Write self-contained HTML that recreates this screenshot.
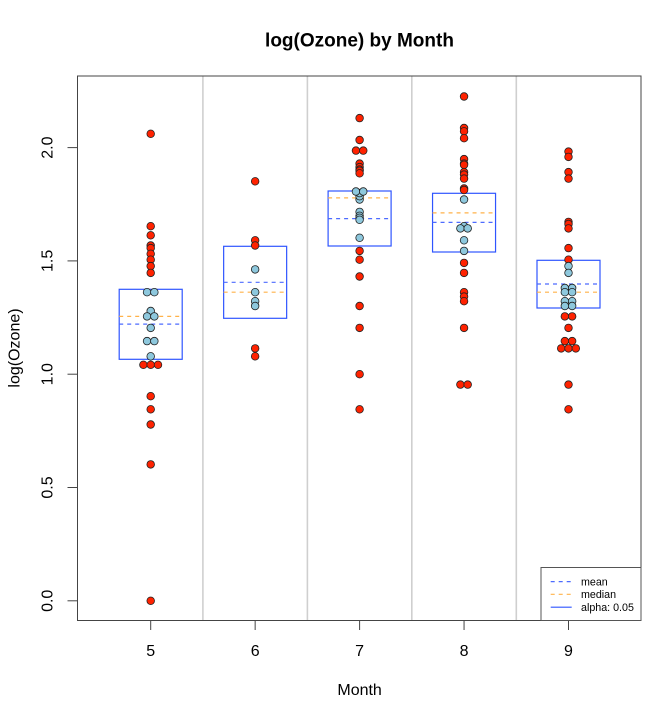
<!DOCTYPE html>
<html>
<head>
<meta charset="utf-8">
<style>
html,body{margin:0;padding:0;background:#fff;}
svg{display:block;}
text{font-family:"Liberation Sans",Arial,Helvetica,sans-serif;fill:#000;}
</style>
</head>
<body>
<svg width="661" height="707" viewBox="0 0 661 707" xmlns="http://www.w3.org/2000/svg">
<rect x="0" y="0" width="661" height="707" fill="#fff"/>
<!-- title -->
<text x="359.5" y="46.5" font-size="19" font-weight="bold" text-anchor="middle">log(Ozone) by Month</text>

<!-- separators -->
<g stroke="#cfcfcf" stroke-width="1.6">
<line x1="202.9" y1="76" x2="202.9" y2="620.5"/>
<line x1="307.4" y1="76" x2="307.4" y2="620.5"/>
<line x1="411.8" y1="76" x2="411.8" y2="620.5"/>
<line x1="516.3" y1="76" x2="516.3" y2="620.5"/>
</g>

<!-- boxes -->
<g fill="none" stroke="#2f55ff" stroke-width="1.2">
<rect x="119.2" y="289.3" width="63" height="70"/>
<rect x="223.65" y="246.3" width="63" height="72"/>
<rect x="328.1" y="191" width="63" height="55"/>
<rect x="432.55" y="193.3" width="63" height="58.7"/>
<rect x="537" y="260.3" width="63" height="47.7"/>
</g>
<!-- mean lines -->
<g stroke="#4d6bff" stroke-width="1.2" stroke-dasharray="4,4">
<line x1="119.2" y1="324.1" x2="182.2" y2="324.1"/>
<line x1="223.65" y1="282.3" x2="286.65" y2="282.3"/>
<line x1="328.1" y1="218.6" x2="391.1" y2="218.6"/>
<line x1="432.55" y1="222.4" x2="495.55" y2="222.4"/>
<line x1="537" y1="284" x2="600" y2="284"/>
</g>
<!-- median lines -->
<g stroke="#ffb24a" stroke-width="1.2" stroke-dasharray="4,4">
<line x1="119.2" y1="316.4" x2="182.2" y2="316.4"/>
<line x1="223.65" y1="292.2" x2="286.65" y2="292.2"/>
<line x1="328.1" y1="197.9" x2="391.1" y2="197.9"/>
<line x1="432.55" y1="212.9" x2="495.55" y2="212.9"/>
<line x1="537" y1="292.2" x2="600" y2="292.2"/>
</g>

<!-- points -->
<g stroke="#222" stroke-width="0.8">
<!-- Month 5 -->
<g fill="#ff2200">
<circle cx="150.7" cy="133.8" r="3.8"/>
<circle cx="150.7" cy="226.2" r="3.8"/>
<circle cx="150.7" cy="235.3" r="3.8"/>
<circle cx="150.7" cy="245.5" r="3.8"/>
<circle cx="150.7" cy="248.1" r="3.8"/>
<circle cx="150.7" cy="253.8" r="3.8"/>
<circle cx="150.7" cy="259.7" r="3.8"/>
<circle cx="150.7" cy="266.1" r="3.8"/>
<circle cx="150.7" cy="272.9" r="3.8"/>
<circle cx="143.4" cy="364.8" r="3.8"/>
<circle cx="150.7" cy="364.8" r="3.8"/>
<circle cx="158.0" cy="364.8" r="3.8"/>
<circle cx="150.7" cy="396.2" r="3.8"/>
<circle cx="150.7" cy="409.3" r="3.8"/>
<circle cx="150.7" cy="424.5" r="3.8"/>
<circle cx="150.7" cy="464.4" r="3.8"/>
<circle cx="150.7" cy="600.8" r="3.8"/>
</g>
<g fill="#8ec8dd">
<circle cx="147.05" cy="292.2" r="3.8"/>
<circle cx="154.35" cy="292.2" r="3.8"/>
<circle cx="150.7" cy="311.0" r="3.8"/>
<circle cx="147.05" cy="316.4" r="3.8"/>
<circle cx="154.35" cy="316.4" r="3.8"/>
<circle cx="150.7" cy="327.9" r="3.8"/>
<circle cx="147.05" cy="341.1" r="3.8"/>
<circle cx="154.35" cy="341.1" r="3.8"/>
<circle cx="150.7" cy="356.3" r="3.8"/>
</g>
<!-- Month 6 -->
<g fill="#ff2200">
<circle cx="255.15" cy="181.3" r="3.8"/>
<circle cx="255.15" cy="240.3" r="3.8"/>
<circle cx="255.15" cy="245.5" r="3.8"/>
<circle cx="255.15" cy="348.4" r="3.8"/>
<circle cx="255.15" cy="356.3" r="3.8"/>
</g>
<g fill="#8ec8dd">
<circle cx="255.15" cy="269.4" r="3.8"/>
<circle cx="255.15" cy="292.2" r="3.8"/>
<circle cx="255.15" cy="301.2" r="3.8"/>
<circle cx="255.15" cy="306.0" r="3.8"/>
</g>
<!-- Month 7 -->
<g fill="#ff2200">
<circle cx="359.6" cy="118.1" r="3.8"/>
<circle cx="359.6" cy="140.0" r="3.8"/>
<circle cx="355.95" cy="150.6" r="3.8"/>
<circle cx="363.25" cy="150.6" r="3.8"/>
<circle cx="359.6" cy="163.6" r="3.8"/>
<circle cx="359.6" cy="167.1" r="3.8"/>
<circle cx="359.6" cy="169.6" r="3.8"/>
<circle cx="359.6" cy="170.8" r="3.8"/>
<circle cx="359.6" cy="173.3" r="3.8"/>
<circle cx="359.6" cy="250.9" r="3.8"/>
<circle cx="359.6" cy="259.7" r="3.8"/>
<circle cx="359.6" cy="276.5" r="3.8"/>
<circle cx="359.6" cy="306.0" r="3.8"/>
<circle cx="359.6" cy="327.9" r="3.8"/>
<circle cx="359.6" cy="374.2" r="3.8"/>
<circle cx="359.6" cy="409.3" r="3.8"/>
</g>
<g fill="#8ec8dd">
<circle cx="359.6" cy="199.5" r="3.8"/>
<circle cx="359.6" cy="196.2" r="3.8"/>
<circle cx="359.6" cy="193.1" r="3.8"/>
<circle cx="355.95" cy="191.5" r="3.8"/>
<circle cx="363.25" cy="191.5" r="3.8"/>
<circle cx="359.6" cy="211.9" r="3.8"/>
<circle cx="359.6" cy="215.8" r="3.8"/>
<circle cx="359.6" cy="217.8" r="3.8"/>
<circle cx="359.6" cy="219.8" r="3.8"/>
<circle cx="359.6" cy="237.8" r="3.8"/>
</g>
<!-- Month 8 -->
<g fill="#ff2200">
<circle cx="464.05" cy="96.5" r="3.8"/>
<circle cx="464.05" cy="128.0" r="3.8"/>
<circle cx="464.05" cy="131.3" r="3.8"/>
<circle cx="464.05" cy="138.2" r="3.8"/>
<circle cx="464.05" cy="159.1" r="3.8"/>
<circle cx="464.05" cy="163.6" r="3.8"/>
<circle cx="464.05" cy="164.8" r="3.8"/>
<circle cx="464.05" cy="172.1" r="3.8"/>
<circle cx="464.05" cy="174.6" r="3.8"/>
<circle cx="464.05" cy="178.6" r="3.8"/>
<circle cx="464.05" cy="188.5" r="3.8"/>
<circle cx="464.05" cy="190.0" r="3.8"/>
<circle cx="464.05" cy="262.9" r="3.8"/>
<circle cx="464.05" cy="272.9" r="3.8"/>
<circle cx="464.05" cy="292.2" r="3.8"/>
<circle cx="464.05" cy="296.6" r="3.8"/>
<circle cx="464.05" cy="301.2" r="3.8"/>
<circle cx="464.05" cy="327.9" r="3.8"/>
<circle cx="460.4" cy="384.6" r="3.8"/>
<circle cx="467.7" cy="384.6" r="3.8"/>
</g>
<g fill="#8ec8dd">
<circle cx="464.05" cy="199.5" r="3.8"/>
<circle cx="464.05" cy="226.2" r="3.8"/>
<circle cx="460.4" cy="228.4" r="3.8"/>
<circle cx="467.7" cy="228.4" r="3.8"/>
<circle cx="464.05" cy="240.3" r="3.8"/>
<circle cx="464.05" cy="250.9" r="3.8"/>
</g>
<!-- Month 9 -->
<g fill="#ff2200">
<circle cx="568.5" cy="151.6" r="3.8"/>
<circle cx="568.5" cy="156.9" r="3.8"/>
<circle cx="568.5" cy="172.1" r="3.8"/>
<circle cx="568.5" cy="178.6" r="3.8"/>
<circle cx="568.5" cy="221.9" r="3.8"/>
<circle cx="568.5" cy="224.0" r="3.8"/>
<circle cx="568.5" cy="228.4" r="3.8"/>
<circle cx="568.5" cy="248.1" r="3.8"/>
<circle cx="568.5" cy="259.7" r="3.8"/>
<circle cx="564.85" cy="316.4" r="3.8"/>
<circle cx="572.15" cy="316.4" r="3.8"/>
<circle cx="568.5" cy="327.9" r="3.8"/>
<circle cx="564.85" cy="341.1" r="3.8"/>
<circle cx="572.15" cy="341.1" r="3.8"/>
<circle cx="561.2" cy="348.4" r="3.8"/>
<circle cx="568.5" cy="348.4" r="3.8"/>
<circle cx="575.8" cy="348.4" r="3.8"/>
<circle cx="568.5" cy="384.6" r="3.8"/>
<circle cx="568.5" cy="409.3" r="3.8"/>
</g>
<g fill="#8ec8dd">
<circle cx="568.5" cy="266.1" r="3.8"/>
<circle cx="568.5" cy="272.9" r="3.8"/>
<circle cx="564.85" cy="288.0" r="3.8"/>
<circle cx="572.15" cy="288.0" r="3.8"/>
<circle cx="564.85" cy="292.2" r="3.8"/>
<circle cx="572.15" cy="292.2" r="3.8"/>
<circle cx="564.85" cy="301.2" r="3.8"/>
<circle cx="572.15" cy="301.2" r="3.8"/>
<circle cx="564.85" cy="306.0" r="3.8"/>
<circle cx="572.15" cy="306.0" r="3.8"/>
</g>
</g>

<!-- frame -->
<rect x="77.5" y="76" width="563.5" height="544.5" fill="none" stroke="#444" stroke-width="1"/>

<!-- y axis -->
<g stroke="#444" stroke-width="1">
<line x1="77.5" y1="147.6" x2="77.5" y2="600.8"/>
<line x1="67.5" y1="600.8" x2="77.5" y2="600.8"/>
<line x1="67.5" y1="487.5" x2="77.5" y2="487.5"/>
<line x1="67.5" y1="374.2" x2="77.5" y2="374.2"/>
<line x1="67.5" y1="260.9" x2="77.5" y2="260.9"/>
<line x1="67.5" y1="147.6" x2="77.5" y2="147.6"/>
</g>
<g font-size="16" text-anchor="middle">
<text transform="translate(52.5,600.8) rotate(-90)">0.0</text>
<text transform="translate(52.5,487.5) rotate(-90)">0.5</text>
<text transform="translate(52.5,374.2) rotate(-90)">1.0</text>
<text transform="translate(52.5,260.9) rotate(-90)">1.5</text>
<text transform="translate(52.5,147.6) rotate(-90)">2.0</text>
</g>
<text transform="translate(19.5,348) rotate(-90)" font-size="16" text-anchor="middle">log(Ozone)</text>

<!-- x axis -->
<g stroke="#444" stroke-width="1">
<line x1="150.7" y1="620.5" x2="568.5" y2="620.5"/>
<line x1="150.7" y1="620.5" x2="150.7" y2="630"/>
<line x1="255.15" y1="620.5" x2="255.15" y2="630"/>
<line x1="359.6" y1="620.5" x2="359.6" y2="630"/>
<line x1="464.05" y1="620.5" x2="464.05" y2="630"/>
<line x1="568.5" y1="620.5" x2="568.5" y2="630"/>
</g>
<g font-size="16" text-anchor="middle">
<text x="150.7" y="656">5</text>
<text x="255.15" y="656">6</text>
<text x="359.6" y="656">7</text>
<text x="464.05" y="656">8</text>
<text x="568.5" y="656">9</text>
</g>
<text x="359.6" y="695" font-size="16" text-anchor="middle">Month</text>

<!-- legend -->
<rect x="541" y="567.5" width="100" height="53" fill="#fff" stroke="#555" stroke-width="1"/>
<line x1="550.7" y1="581.6" x2="571.7" y2="581.6" stroke="#4d6bff" stroke-width="1.2" stroke-dasharray="4,4"/>
<line x1="550.7" y1="594.3" x2="571.7" y2="594.3" stroke="#ffb24a" stroke-width="1.2" stroke-dasharray="4,4"/>
<line x1="550.7" y1="607.2" x2="571.7" y2="607.2" stroke="#2f55ff" stroke-width="1.2"/>
<g font-size="10.7">
<text x="581" y="585.5">mean</text>
<text x="581" y="598.2">median</text>
<text x="581" y="611.1">alpha: 0.05</text>
</g>
</svg>
</body>
</html>
